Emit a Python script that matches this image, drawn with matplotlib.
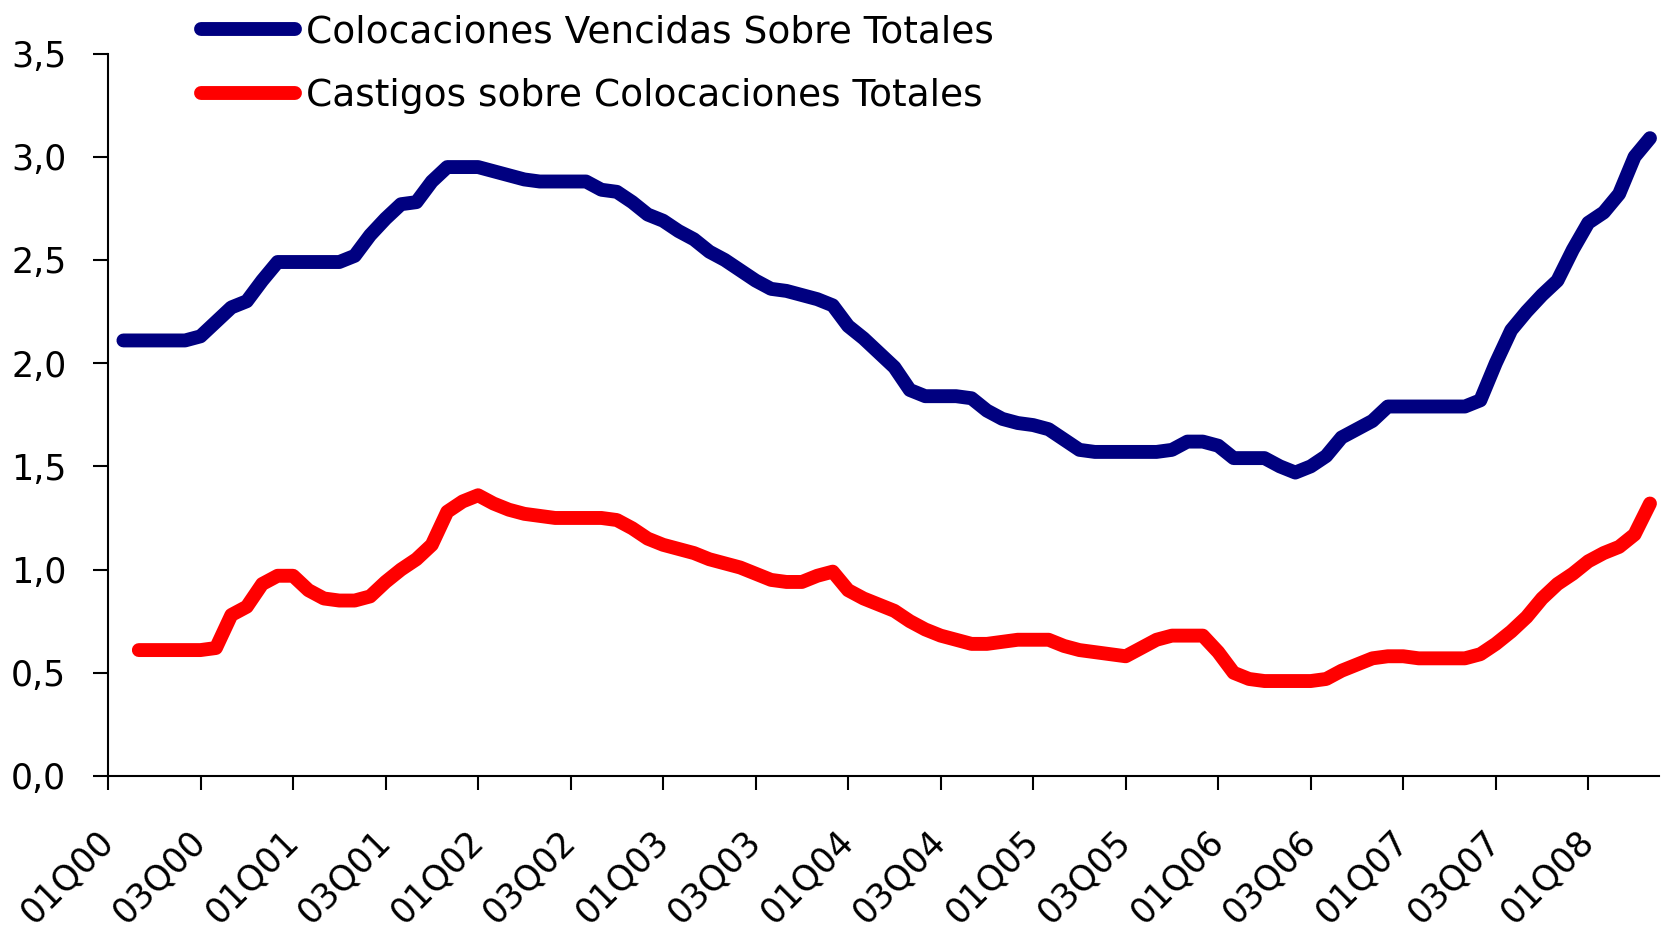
import matplotlib.pyplot as plt
import numpy as np

plt.rcParams['font.family'] = ['DejaVu Sans']

# meses desde enero 2000 (0 = 01Q00)
meses_venc = list(range(1, 101))
venc = [2.11, 2.11, 2.11, 2.11, 2.11, 2.13, 2.20, 2.27, 2.30, 2.40,
        2.49, 2.49, 2.49, 2.49, 2.49, 2.52, 2.62, 2.70, 2.77, 2.78,
        2.88, 2.95, 2.95, 2.95, 2.93, 2.91, 2.89, 2.88, 2.88, 2.88,
        2.88, 2.84, 2.83, 2.78, 2.72, 2.69, 2.64, 2.60, 2.54, 2.50,
        2.45, 2.40, 2.36, 2.35, 2.33, 2.31, 2.28, 2.18, 2.12, 2.05,
        1.98, 1.87, 1.84, 1.84, 1.84, 1.83, 1.77, 1.73, 1.71, 1.70,
        1.68, 1.63, 1.58, 1.57, 1.57, 1.57, 1.57, 1.57, 1.58, 1.62,
        1.62, 1.60, 1.54, 1.54, 1.54, 1.50, 1.47, 1.50, 1.55, 1.64,
        1.68, 1.72, 1.79, 1.79, 1.79, 1.79, 1.79, 1.79, 1.82, 2.00,
        2.16, 2.25, 2.33, 2.40, 2.55, 2.68, 2.73, 2.82, 3.00, 3.09]

meses_cast = list(range(2, 101))
cast = [0.61, 0.61, 0.61, 0.61, 0.61, 0.62, 0.78, 0.82, 0.93,
        0.97, 0.97, 0.90, 0.86, 0.85, 0.85, 0.87, 0.94, 1.00, 1.05,
        1.12, 1.28, 1.33, 1.36, 1.32, 1.29, 1.27, 1.26, 1.25, 1.25,
        1.25, 1.25, 1.24, 1.20, 1.15, 1.12, 1.10, 1.08, 1.05, 1.03,
        1.01, 0.98, 0.95, 0.94, 0.94, 0.97, 0.99, 0.90, 0.86, 0.83,
        0.80, 0.75, 0.71, 0.68, 0.66, 0.64, 0.64, 0.65, 0.66, 0.66,
        0.66, 0.63, 0.61, 0.60, 0.59, 0.58, 0.62, 0.66, 0.68, 0.68,
        0.68, 0.60, 0.50, 0.47, 0.46, 0.46, 0.46, 0.46, 0.47, 0.51,
        0.54, 0.57, 0.58, 0.58, 0.57, 0.57, 0.57, 0.57, 0.59, 0.64,
        0.70, 0.77, 0.86, 0.93, 0.98, 1.04, 1.08, 1.11, 1.17, 1.32]

etiquetas_x = ['01Q00', '03Q00', '01Q01', '03Q01', '01Q02', '03Q02',
               '01Q03', '03Q03', '01Q04', '03Q04', '01Q05', '03Q05',
               '01Q06', '03Q06', '01Q07', '03Q07', '01Q08']
ticks_y = [0.0, 0.5, 1.0, 1.5, 2.0, 2.5, 3.0, 3.5]


def main():
    fig = plt.figure(figsize=(16.77, 9.31), dpi=100)
    ax = fig.add_axes([0.0644, 0.1665, 0.925, 0.776])

    ax.plot(meses_venc, venc, color='#000080', lw=10, solid_capstyle='round',
            label='Colocaciones Vencidas Sobre Totales')
    ax.plot(meses_cast, cast, color='#ff0000', lw=10, solid_capstyle='round',
            label='Castigos sobre Colocaciones Totales')

    ax.set_xlim(0, 100.6)
    ax.set_ylim(0, 3.5)
    ax.set_xticks(np.arange(0, 6 * len(etiquetas_x), 6))
    ax.set_xticklabels(etiquetas_x, rotation=45, ha='right', va='center',
                       rotation_mode='anchor', fontsize=25)
    ax.set_yticks(ticks_y)
    ax.set_yticklabels([f'{v:.1f}'.replace('.', ',') for v in ticks_y], fontsize=25)
    ax.tick_params(axis='x', length=10, width=1.5, pad=33)
    ax.tick_params(axis='y', length=11, width=1.5, pad=19)

    for s in ['top', 'right']:
        ax.spines[s].set_visible(False)
    for s in ['left', 'bottom']:
        ax.spines[s].set_linewidth(1.5)

    leg = fig.legend(loc='upper left', bbox_to_anchor=(0.1, 1.021), frameon=False,
                     fontsize=27, handlelength=2.5, handletextpad=0.3,
                     labelspacing=0.75)
    for linea in leg.get_lines():
        linea.set_linewidth(10)

    fig.savefig('out.png', dpi=100)


if __name__ == '__main__':
    main()
